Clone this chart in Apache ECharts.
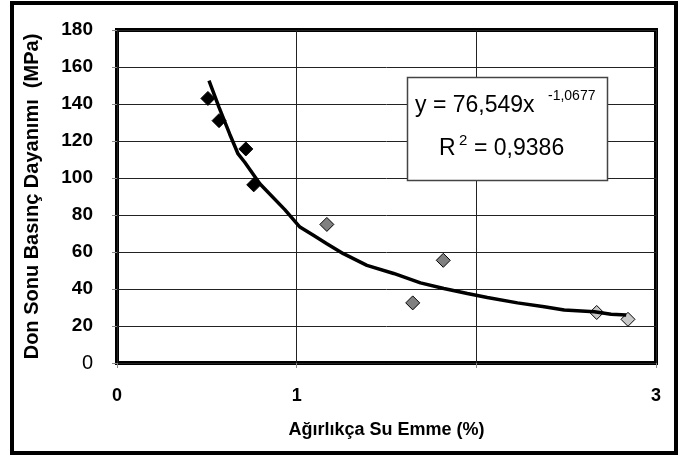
<!DOCTYPE html>
<html>
<head>
<meta charset="utf-8">
<script src="https://cdn.jsdelivr.net/npm/echarts@6/dist/echarts.min.js"></script>
<style>
  html, body { margin: 0; padding: 0; background: #fff; }
  #chart { width: 685px; height: 457px; }
</style>
</head>
<body>
<div id="chart"></div>
<script>
// measured points (x: water absorption %, y: strength MPa)
const darkX = [0.506, 0.568, 0.717, 0.761]
const darkY = [143.0, 131.0, 115.7, 96.3]
const midX = [1.168, 1.646, 1.816]
const midY = [74.9, 32.5, 55.5]
const lightX = [2.670, 2.844]
const lightY = [27.3, 23.6]

// power trendline as drawn in the picture
const trendX = [0.512, 0.568, 0.627, 0.674, 0.711, 0.795, 0.934, 1.018, 1.093, 1.168, 1.260, 1.391, 1.540, 1.689, 1.819, 1.950, 2.061, 2.229, 2.378, 2.489, 2.657, 2.750, 2.834]
const trendY = [152.6, 138.2, 123.8, 113.0, 108.5, 96.9, 82.9, 73.5, 69.0, 64.5, 59.1, 52.8, 48.4, 43.3, 40.3, 37.6, 35.4, 32.5, 30.4, 28.6, 27.7, 26.4, 25.9]

const xTickLabels = ['0', '1', '', '3']

const pairs = (xs, ys) => xs.map((x, i) => [x, ys[i]])

const font = 'Arial, "Liberation Sans", sans-serif'
let mychart = echarts.init(document.getElementById('chart'))

mychart.setOption({
    animation: false,
    grid: {
        left: 117,
        right: 29,
        top: 30,
        bottom: 94,
        show: true,
        borderColor: '#000',
        borderWidth: 4,
        backgroundColor: '#fff'
    },
    xAxis: {
        type: 'value',
        min: 0,
        max: 3,
        interval: 1,
        name: 'Ağırlıkça Su Emme (%)',
        nameLocation: 'middle',
        nameGap: 58,
        nameTextStyle: { fontFamily: font, fontWeight: 'bold', fontSize: 18, color: '#000', verticalAlign: 'top' },
        axisLine: { show: false },
        axisTick: { show: true, length: 5, lineStyle: { color: '#888' } },
        axisLabel: {
            margin: 24,
            fontFamily: font, fontWeight: 'bold', fontSize: 18, color: '#000',
            formatter: function (v) { return xTickLabels[Math.round(v)] }
        },
        splitLine: { show: true, lineStyle: { color: '#222', width: 1 } }
    },
    yAxis: {
        type: 'value',
        min: 0,
        max: 180,
        interval: 20,
        name: 'Don Sonu Basınç Dayanımı  (MPa)',
        nameLocation: 'middle',
        nameGap: 75,
        nameRotate: 90,
        nameTextStyle: { fontFamily: font, fontWeight: 'bold', fontSize: 20, color: '#000', verticalAlign: 'bottom' },
        axisLine: { show: false },
        axisTick: { show: true, length: 5, lineStyle: { color: '#888' } },
        axisLabel: {
            margin: 24,
            fontFamily: font, fontWeight: 'bold', fontSize: 19, color: '#000',
            formatter: function (v) {
                return v === 0 ? '{z|0}' : String(v)
            },
            rich: {
                z: { fontFamily: font, fontWeight: 'normal', fontSize: 20, color: '#000' }
            }
        },
        splitLine: { show: true, lineStyle: { color: '#222', width: 1 } }
    },
    series: [
        {
            type: 'scatter',
            data: pairs(darkX, darkY),
            symbol: 'diamond',
            symbolSize: 14,
            itemStyle: { color: '#000', borderColor: '#000', borderWidth: 1, opacity: 1 },
            z: 3
        },
        {
            type: 'scatter',
            data: pairs(midX, midY),
            symbol: 'diamond',
            symbolSize: 14,
            itemStyle: { color: '#808080', borderColor: '#000', borderWidth: 1, opacity: 1 },
            z: 3
        },
        {
            type: 'scatter',
            data: pairs(lightX, lightY),
            symbol: 'diamond',
            symbolSize: 14,
            itemStyle: { color: '#c8c8c8', borderColor: '#000', borderWidth: 1, opacity: 1 },
            z: 3
        },
        {
            type: 'line',
            data: pairs(trendX, trendY),
            showSymbol: false,
            symbol: 'none',
            smooth: false,
            lineStyle: { color: '#000', width: 3.5 },
            z: 4
        }
    ],
    graphic: [
        // outer frame
        {
            type: 'rect',
            shape: { x: 12, y: 3, width: 664, height: 450 },
            style: { fill: 'none', stroke: '#000', lineWidth: 4 },
            z: 100
        },
        // equation box
        {
            type: 'rect',
            shape: { x: 407.5, y: 77.5, width: 200, height: 103 },
            style: { fill: '#fff', stroke: '#444', lineWidth: 1.5 },
            z: 50
        },
        {
            type: 'text', x: 415, y: 106, z: 51,
            style: { text: 'y = 76,549x', font: '23px ' + font, fill: '#000', textVerticalAlign: 'middle' }
        },
        {
            type: 'text', x: 548, y: 96, z: 51,
            style: { text: '-1,0677', font: '14px ' + font, fill: '#000', textVerticalAlign: 'middle' }
        },
        {
            type: 'text', x: 439, y: 149, z: 51,
            style: { text: 'R', font: '23px ' + font, fill: '#000', textVerticalAlign: 'middle' }
        },
        {
            type: 'text', x: 459, y: 141, z: 51,
            style: { text: '2', font: '15px ' + font, fill: '#000', textVerticalAlign: 'middle' }
        },
        {
            type: 'text', x: 474, y: 149, z: 51,
            style: { text: '= 0,9386', font: '23px ' + font, fill: '#000', textVerticalAlign: 'middle' }
        }
    ]
})
</script>
</body>
</html>
